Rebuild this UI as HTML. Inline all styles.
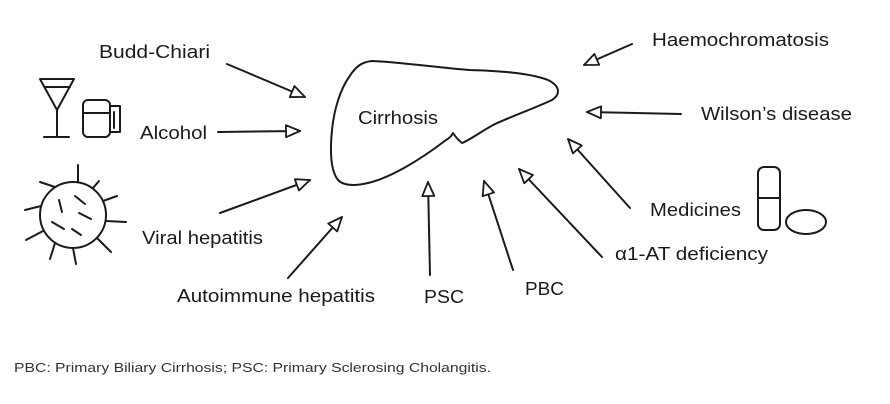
<!DOCTYPE html>
<html><head><meta charset="utf-8"><style>
html,body{margin:0;padding:0;background:#fff;}
svg{display:block;}
text{font-family:"Liberation Sans",sans-serif;fill:#1a1a1a;}
</style></head><body>
<svg width="890" height="404" viewBox="0 0 890 404" xmlns="http://www.w3.org/2000/svg">
<defs>
<marker id="a" viewBox="0 0 16 14" refX="15" refY="7" markerWidth="16" markerHeight="14" markerUnits="userSpaceOnUse" orient="auto">
<path d="M1,1 L15,7 L1,13 Z" fill="#fff" stroke="#1a1a1a" stroke-width="1.8" stroke-linejoin="round"/>
</marker>
</defs>
<g stroke="#1a1a1a" stroke-width="2" fill="none" stroke-linecap="round" stroke-linejoin="round">
<!-- liver -->
<path d="M349,77 C356,66 362,62 372,61 C400,62 440,68 470,70 C500,71 530,73 548,80 C560,86 561,94 552,100 C535,108 515,115 495,124 C480,132 470,140 462,143 C458,140 455,136 453,133 C451,137 449,138 446,140 C420,160 390,178 368,183 C355,186 344,186 338,180 C330,170 330,150 332,130 C334,110 340,90 349,77 Z"/>
<!-- arrows -->
<line x1="227" y1="64" x2="305" y2="97" marker-end="url(#a)"/>
<line x1="218" y1="132" x2="300" y2="131" marker-end="url(#a)"/>
<line x1="220" y1="213" x2="310" y2="180" marker-end="url(#a)"/>
<line x1="288" y1="278" x2="342" y2="217" marker-end="url(#a)"/>
<line x1="430" y1="275" x2="428" y2="182" marker-end="url(#a)"/>
<line x1="513" y1="270" x2="484" y2="181" marker-end="url(#a)"/>
<line x1="602" y1="257" x2="519" y2="169" marker-end="url(#a)"/>
<line x1="630" y1="208" x2="568" y2="139" marker-end="url(#a)"/>
<line x1="681" y1="114" x2="587" y2="112" marker-end="url(#a)"/>
<line x1="632" y1="44" x2="584" y2="65" marker-end="url(#a)"/>
<!-- martini -->
<path d="M40,79 L74,79 L57,110 Z"/>
<line x1="45" y1="87" x2="70" y2="87"/>
<line x1="57" y1="110" x2="57" y2="137"/>
<line x1="44" y1="137" x2="69" y2="137"/>
<!-- mug -->
<rect x="83" y="100" width="27" height="37" rx="5"/>
<line x1="83" y1="113" x2="110" y2="113"/>
<path d="M110,106 L120,106 L120,132 L110,132"/>
<line x1="114" y1="112" x2="114" y2="128"/>
<!-- virus -->
<circle cx="73" cy="215" r="33"/>
<g>
<line x1="78" y1="182" x2="78" y2="165"/>
<line x1="55" y1="187" x2="40" y2="182"/>
<line x1="93" y1="188" x2="99" y2="181"/>
<line x1="103" y1="201" x2="117" y2="196"/>
<line x1="106" y1="221" x2="126" y2="222"/>
<line x1="97" y1="238" x2="111" y2="252"/>
<line x1="73" y1="248" x2="76" y2="264"/>
<line x1="55" y1="243" x2="50" y2="259"/>
<line x1="43" y1="231" x2="26" y2="240"/>
<line x1="41" y1="206" x2="25" y2="210"/>
</g>
<line x1="59" y1="200" x2="62" y2="212"/>
<line x1="75" y1="196" x2="85" y2="204"/>
<line x1="79" y1="213" x2="91" y2="219"/>
<line x1="52" y1="222" x2="64" y2="229"/>
<line x1="72" y1="229" x2="81" y2="235"/>
<!-- pills -->
<rect x="758" y="167" width="22" height="63" rx="6"/>
<line x1="758" y1="198" x2="780" y2="198"/>
<ellipse cx="806" cy="222" rx="20" ry="12"/>
</g>
<g font-size="18">
<text x="99" y="58" textLength="111" lengthAdjust="spacingAndGlyphs">Budd-Chiari</text>
<text x="140" y="139" textLength="67" lengthAdjust="spacingAndGlyphs">Alcohol</text>
<text x="142" y="244" textLength="121" lengthAdjust="spacingAndGlyphs">Viral hepatitis</text>
<text x="177" y="302" textLength="198" lengthAdjust="spacingAndGlyphs">Autoimmune hepatitis</text>
<text x="358" y="124" textLength="80" lengthAdjust="spacingAndGlyphs">Cirrhosis</text>
<text x="424" y="303" textLength="40" lengthAdjust="spacingAndGlyphs">PSC</text>
<text x="525" y="295" textLength="39" lengthAdjust="spacingAndGlyphs">PBC</text>
<text x="615" y="260" textLength="153" lengthAdjust="spacingAndGlyphs">α1-AT deficiency</text>
<text x="650" y="216" textLength="91" lengthAdjust="spacingAndGlyphs">Medicines</text>
<text x="701" y="120" textLength="151" lengthAdjust="spacingAndGlyphs">Wilson’s disease</text>
<text x="652" y="46" textLength="177" lengthAdjust="spacingAndGlyphs">Haemochromatosis</text>
</g>
<text x="14" y="372" font-size="13" textLength="477" lengthAdjust="spacingAndGlyphs" style="fill:#333">PBC: Primary Biliary Cirrhosis; PSC: Primary Sclerosing Cholangitis.</text>
</svg>
</body></html>
